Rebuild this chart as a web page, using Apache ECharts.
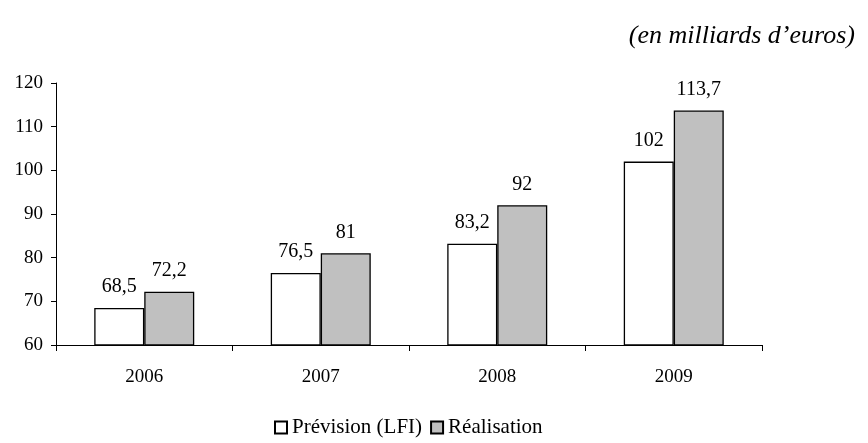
<!DOCTYPE html>
<html>
<head>
<meta charset="utf-8">
<script src="https://cdn.jsdelivr.net/npm/echarts@6/dist/echarts.min.js"></script>
<style>
  html, body { margin: 0; padding: 0; background: #fff; }
  #chart { width: 868px; height: 443px; }
</style>
</head>
<body>
<div id="chart"></div>
<script>
// Années et montants (en milliards d'euros)
const years = ['2006', '2007', '2008', '2009'];
const prevision = [68.5, 76.5, 83.2, 102];
const realisation = [72.2, 81, 92, 113.7];
const seriesNames = ['Prévision (LFI)', 'Réalisation'];

const FONT = '"Liberation Serif", "Times New Roman", serif';
const fmt = v => String(v).replace('.', ',');

const chart = echarts.init(document.getElementById('chart'));

const labelStyle = {
  show: true,
  position: 'top',
  distance: 11,
  color: '#000',
  fontFamily: FONT,
  fontSize: 20,
  formatter: p => fmt(p.value)
};

chart.setOption({
  animation: false,
  backgroundColor: '#fff',
  title: {
    text: '(en milliards d’euros)',
    right: 8,
    top: 18,
    textStyle: { fontFamily: FONT, fontStyle: 'italic', fontWeight: 'normal', fontSize: 26, color: '#000' }
  },
  legend: {
    bottom: 0,
    left: 269,
    itemWidth: 12,
    itemHeight: 12,
    itemGap: 8,
    icon: 'rect',
    textStyle: { fontFamily: FONT, fontSize: 21, color: '#000', padding: [0, 0, 0, 0] },
    data: seriesNames
  },
  grid: { left: 56, right: 106, top: 83, bottom: 98 },
  xAxis: {
    type: 'category',
    data: years,
    axisLine: { lineStyle: { color: '#000', width: 1 } },
    axisTick: { show: true, inside: false, length: 6, alignWithLabel: false, lineStyle: { color: '#000' } },
    axisLabel: { color: '#000', fontFamily: FONT, fontSize: 19, margin: 23 }
  },
  yAxis: {
    type: 'value',
    min: 60,
    max: 120,
    interval: 10,
    splitLine: { show: false },
    axisLine: { show: true, lineStyle: { color: '#000', width: 1 } },
    axisTick: { show: true, length: 5, lineStyle: { color: '#000' } },
    axisLabel: { color: '#000', fontFamily: FONT, fontSize: 19, margin: 13 }
  },
  series: [
    {
      name: seriesNames[0],
      type: 'bar',
      data: prevision,
      barWidth: 50,
      barGap: '0%',
      itemStyle: { color: '#ffffff', borderColor: '#000', borderWidth: 1.3 },
      label: labelStyle
    },
    {
      name: seriesNames[1],
      type: 'bar',
      data: realisation,
      barWidth: 50,
      itemStyle: { color: '#c0c0c0', borderColor: '#000', borderWidth: 1.3 },
      label: labelStyle
    }
  ]
});
</script>
</body>
</html>
